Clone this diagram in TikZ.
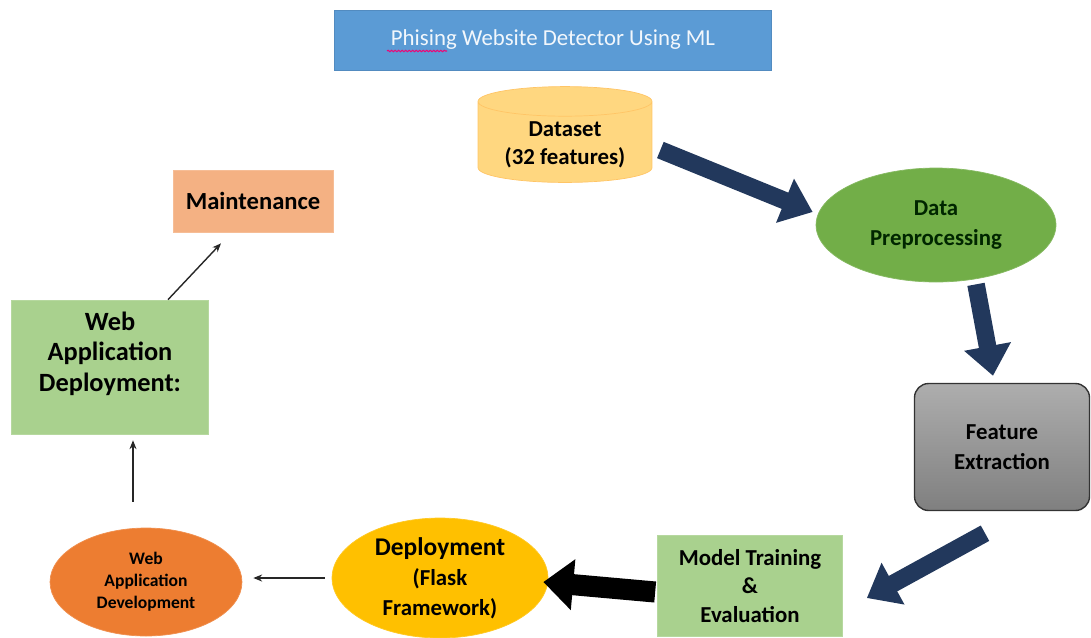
\documentclass[tikz,border=0pt]{standalone}
\usepackage{fontspec}
\setmainfont{Carlito}
\usepackage{tikz}
\usetikzlibrary{arrows.meta, positioning, shapes.geometric, calc, decorations.pathmorphing}

\definecolor{titleblue}{HTML}{5B9BD5}
\definecolor{dataorange}{HTML}{FFD780}
\definecolor{prepgreen}{HTML}{72AE48}
\definecolor{lightgreen}{HTML}{A9D18E}
\definecolor{deployyellow}{HTML}{FFC000}
\definecolor{devorange}{HTML}{ED7D31}
\definecolor{maintsalmon}{HTML}{F4B183}
\definecolor{navyarrow}{HTML}{22385C}

\tikzset{
    stagebox/.style={draw=#1!85!white, fill=#1, align=center, font=\bfseries\fontsize{13}{16}\selectfont, inner sep=2pt},
    stageoval/.style={ellipse, draw=#1!85!white, fill=#1, align=center, inner sep=0pt},
    bigarrow/.style={navyarrow, line width=10pt, -{Triangle[length=17pt, width=26pt]}},
    thinarrow/.style={black!85, line width=0.8pt, -{Stealth[length=5pt, width=4pt]}}
}

\begin{document}
\begin{tikzpicture}[x=0.02cm, y=-0.02cm]
    \useasboundingbox (0,0) rectangle (1091,637);

    % Title
    \node[fill=titleblue, draw=titleblue!90!black, minimum width=8.74cm, minimum height=1.2cm,
          text=white!92!titleblue, font=\fontsize{13}{16}\selectfont] (title) at (553,40)
          {Phising Website Detector Using ML};
    \draw[magenta!80!red, line width=0.6pt, decorate, decoration={snake, amplitude=0.4pt, segment length=2pt}]
        ($(title.center)+(-166,11)$) -- ($(title.center)+(-106,11)$);

    % Dataset
    \node[cylinder, shape border rotate=90, aspect=0.22, draw=dataorange!80!orange, fill=dataorange,
          minimum width=3.48cm, minimum height=1.3cm, inner xsep=4pt, inner ysep=3pt, align=center,
          font=\bfseries\fontsize{13}{16}\selectfont] (dataset) at (565,145)
          {Dataset\\(32 features)};

    % Data preprocessing
    \node[stageoval=prepgreen, minimum width=4.8cm, minimum height=2.28cm, text=black!85!green,
          font=\bfseries\fontsize{13}{17}\selectfont] (prep) at (936,225)
          {Data\\Preprocessing};

    % Feature extraction
    \node[draw=black!80, line width=0.8pt, rounded corners=8pt, top color=black!32, bottom color=black!50,
          minimum width=3.5cm, minimum height=2.54cm, align=center,
          font=\bfseries\fontsize{13}{17}\selectfont] (feature) at (1002,447)
          {Feature\\Extraction};

    % Model training
    \node[stagebox=lightgreen, minimum width=3.7cm, minimum height=2.02cm] (model) at (750,586)
          {Model Training\\\&\\Evaluation};

    % Deployment
    \node[stageoval=deployyellow, minimum width=4.32cm, minimum height=2.4cm,
          font=\bfseries\fontsize{13}{17}\selectfont] (deploy) at (440,578)
          {{\fontsize{14.5}{17}\selectfont Deployment}\\(Flask\\Framework)};

    % Web application development
    \node[stageoval=devorange, minimum width=3.84cm, minimum height=2.16cm,
          font=\bfseries\fontsize{10}{12.5}\selectfont] (webdev) at (146,582)
          {Web\\Application\\Development};

    % Web application deployment
    \node[stagebox=lightgreen, minimum width=3.94cm, minimum height=2.68cm,
          font=\bfseries\fontsize{15}{17.5}\selectfont] (webdeploy) at (110,367)
          {Web\\Application\\Deployment:\\\mbox{}};

    % Maintenance
    \node[stagebox=maintsalmon, minimum width=3.2cm, minimum height=1.24cm,
          font=\bfseries\fontsize{14}{17}\selectfont] (maint) at (253,201)
          {Maintenance};

    % Flow
    \draw[bigarrow] ($(dataset.east)+(8,5)$) -- ($(prep.west)+(-3,-13)$);
    \draw[bigarrow] ($(prep.south)+(40,2)$) -- ($(feature.north)+(-9,-7)$);
    \draw[bigarrow] ($(feature.south)+(-17,22)$) -- ($(model.east)+(24,12)$);
    \draw[black, line width=12pt, -{Triangle[length=17pt, width=28pt]}]
        ($(model.west)+(-2,6)$) -- ($(deploy.east)+(-5,4)$);
    \draw[thinarrow] ($(deploy.west)+(-7,0)$) -- ($(webdev.east)+(11,-4)$);
    \draw[thinarrow] ($(webdev.north)+(-13,-26)$) -- ($(webdeploy.south)+(23,6)$);
    \draw[thinarrow] ($(webdeploy.north)+(58,0)$) -- ($(maint.south)+(-32,11)$);
\end{tikzpicture}
\end{document}
